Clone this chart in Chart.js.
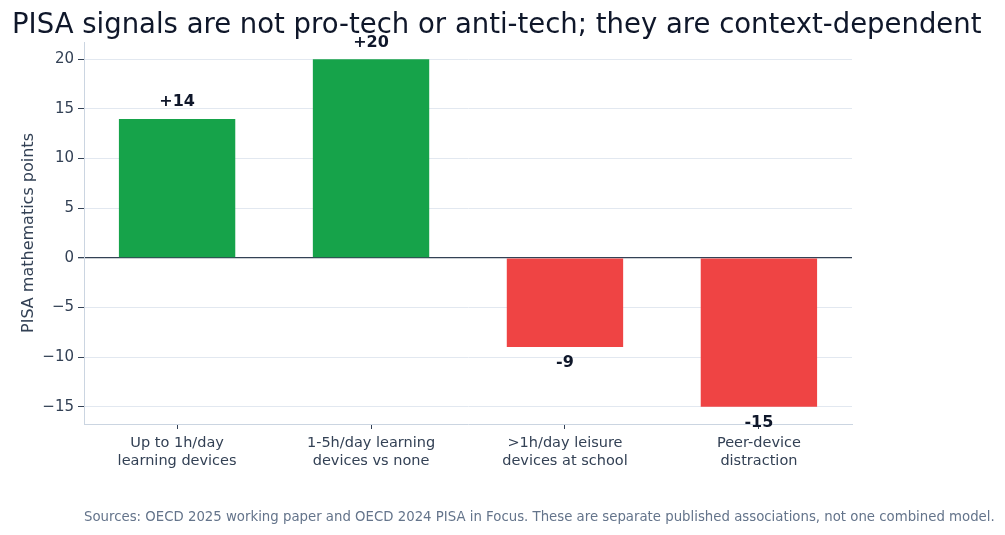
<!DOCTYPE html>
<html>
<head>
<meta charset="utf-8">
<script src="https://cdn.jsdelivr.net/npm/chart.js@4.4.1/dist/chart.umd.min.js"></script>
<style>
  html, body { margin: 0; padding: 0; background: #ffffff; }
  #wrap { width: 1005px; height: 535px; position: relative; }
</style>
</head>
<body>
<div id="wrap"><canvas id="pisaChart"></canvas></div>
<script>
// Dados do gráfico
const categories = [
    ['Up to 1h/day', 'learning devices'],
    ['1-5h/day learning', 'devices vs none'],
    ['>1h/day leisure', 'devices at school'],
    ['Peer-device', 'distraction']
];
const effects = [14, 20, -9, -15];
const valueLabels = ['+14', '+20', '-9', '-15'];
const yTicks = [-15, -10, -5, 0, 5, 10, 15, 20];

const chartTitle = 'PISA signals are not pro-tech or anti-tech; they are context-dependent';
const sourceNote = 'Sources: OECD 2025 working paper and OECD 2024 PISA in Focus. These are separate published associations, not one combined model.';

const FONT = "'DejaVu Sans', sans-serif";

// Título, rótulos das barras e nota de fonte
const textPlugin = {
    id: 'textPlugin',
    afterDatasetsDraw(chart) {
        const ctx = chart.ctx;
        const area = chart.chartArea;
        const meta = chart.getDatasetMeta(0);
        ctx.save();
        // título
        ctx.fillStyle = '#0f172a';
        ctx.font = '27.5px ' + FONT;
        ctx.textAlign = 'left';
        ctx.textBaseline = 'alphabetic';
        ctx.fillText(chartTitle, 12, 33);
        // valores
        ctx.font = 'bold 16px ' + FONT;
        ctx.textAlign = 'center';
        ctx.textBaseline = 'middle';
        meta.data.forEach((bar, i) => {
            const up = effects[i] >= 0;
            const y = up ? bar.y - 17 : bar.y + 16;
            ctx.fillText(valueLabels[i], bar.x, y);
        });
        // fonte
        ctx.fillStyle = '#64748b';
        ctx.font = '13.3px ' + FONT;
        ctx.textAlign = 'left';
        ctx.fillText(sourceNote, area.left, 518);
        ctx.restore();
    }
};

const ctx = document.getElementById('pisaChart').getContext('2d');

new Chart(ctx, {
    type: 'bar',
    data: {
        datasets: [{
            data: effects.map((v, i) => ({ x: i, y: v })),
            backgroundColor: effects.map(v => v >= 0 ? '#16a34a' : '#ef4444'),
            borderWidth: 0,
            barPercentage: 0.6,
            categoryPercentage: 1
        }]
    },
    options: {
        responsive: true,
        maintainAspectRatio: false,
        animation: false,
        layout: { padding: { top: 42, right: 153, left: 19, bottom: 0 } },
        plugins: {
            legend: { display: false },
            tooltip: { enabled: false },
            title: { display: false }
        },
        scales: {
            x: {
                type: 'linear',
                offset: false,
                min: -0.48,
                max: 3.48,
                afterBuildTicks: (scale) => {
                    scale.ticks = categories.map((c, i) => ({ value: i }));
                },
                afterFit: (scale) => { scale.height = 111; },
                ticks: {
                    color: '#334155',
                    font: { family: FONT, size: 14.5 },
                    padding: 6,
                    maxRotation: 0,
                    autoSkip: false,
                    callback: (value) => categories[value]
                },
                grid: {
                    offset: false,
                    drawOnChartArea: false,
                    drawTicks: true,
                    tickLength: 5,
                    tickColor: '#334155'
                },
                border: { color: '#cbd5e1', width: 1 }
            },
            y: {
                min: -16.75,
                max: 21.75,
                afterBuildTicks: (scale) => {
                    scale.ticks = yTicks.map(v => ({ value: v }));
                },
                afterFit: (scale) => { scale.width = 65; },
                ticks: {
                    color: '#334155',
                    font: { family: FONT, size: 15 },
                    padding: 4,
                    callback: (value) => String(value).replace('-', '\u2212')
                },
                grid: {
                    color: (c) => c.tick && c.tick.value === 0 ? '#334155' : '#e2e8f0',
                    lineWidth: (c) => c.tick && c.tick.value === 0 ? 1.3 : 1,
                    tickLength: 6,
                    tickColor: '#334155'
                },
                border: { color: '#cbd5e1', width: 1 },
                title: {
                    display: true,
                    text: 'PISA mathematics points',
                    color: '#334155',
                    font: { family: FONT, size: 16 },
                    padding: { top: 0, bottom: 0 }
                }
            }
        }
    },
    plugins: [textPlugin]
});
</script>
</body>
</html>
